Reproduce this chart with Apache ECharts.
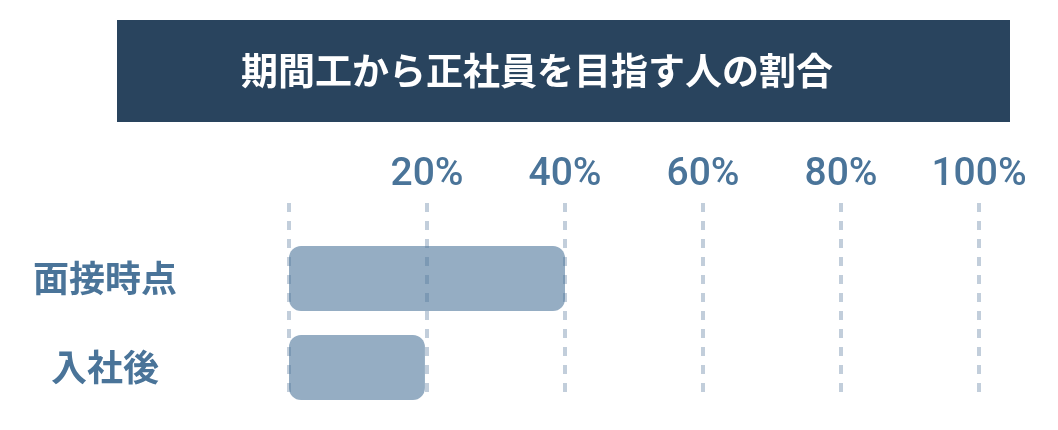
<!DOCTYPE html>
<html>
<head>
<meta charset="utf-8">
<script src="https://cdn.jsdelivr.net/npm/echarts@6/dist/echarts.min.js"></script>
<style>
html,body{margin:0;padding:0;background:#fff;}
#c{width:1058px;height:430px;}
</style>
</head>
<body>
<div id="c"></div>
<script>
var titleText = '期間工から正社員を目指す人の割合';
var categories = ['面接時点', '入社後'];
var values = [40, 19.7];
var tickLabels = ['', '20%', '40%', '60%', '80%', '100%'];

var chart = echarts.init(document.getElementById('c'));
var labelColor = '#4a7499';
chart.setOption({
  animation: false,
  backgroundColor: '#ffffff',
  graphic: [
    { type: 'rect', shape: { x: 117, y: 20, width: 893, height: 102 }, style: { fill: '#29445e' } },
    { type: 'text', x: 537, y: 71, style: { text: titleText, fill: '#ffffff', font: 'bold 37px "Noto Sans CJK JP"', textAlign: 'center', textVerticalAlign: 'middle' } }
  ],
  grid: [
    { left: 289, right: 79, top: 203, bottom: 32 },
    { left: 289, right: 79, top: 234, height: 178 }
  ],
  xAxis: [
    {
      gridIndex: 0, type: 'value', position: 'top', min: 0, max: 100, interval: 20,
      axisLine: { show: false }, axisTick: { show: false },
      axisLabel: {
        margin: 8, color: labelColor, fontSize: 39, fontWeight: 500, fontFamily: 'Roboto',
        formatter: function (v) { return tickLabels[Math.round(v / 20)]; }
      },
      splitLine: { show: true, lineStyle: { color: '#c2cedb', width: 4, type: [9, 9] } }
    },
    {
      gridIndex: 1, type: 'value', min: 0, max: 100, show: false
    }
  ],
  yAxis: [
    { gridIndex: 0, type: 'category', data: [''], show: false },
    {
      gridIndex: 1, type: 'category', data: categories, inverse: true,
      axisLine: { show: false }, axisTick: { show: false },
      axisLabel: { margin: 184, align: 'center', color: labelColor, fontSize: 36, fontWeight: 'bold', fontFamily: '"Noto Sans CJK JP"' }
    }
  ],
  series: [
    {
      type: 'bar', xAxisIndex: 1, yAxisIndex: 1, data: values, barWidth: 65,
      itemStyle: { color: 'rgba(74,116,153,0.59)', borderRadius: 12 }
    }
  ]
});
</script>
</body>
</html>
